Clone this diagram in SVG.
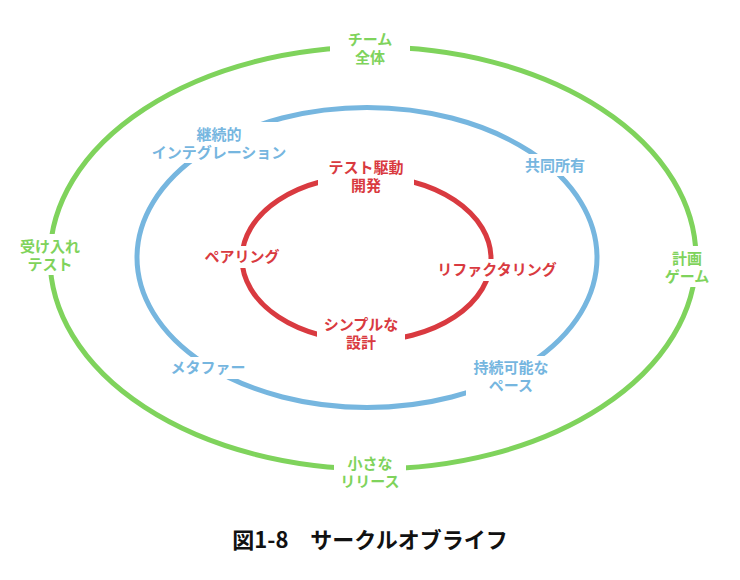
<svg xmlns="http://www.w3.org/2000/svg" width="740" height="580" viewBox="0 0 740 580">
<style>
.ring{fill:none;stroke-width:5}
.g{stroke:#7fd35c}.b{stroke:#76b6df}.r{stroke:#d93a40}
.bg{fill:#fff}
text{font-family:"Noto Sans CJK JP","Noto Sans",sans-serif;font-size:15px;font-weight:bold;text-anchor:middle}
.tg{fill:#7fd35c}.tb{fill:#76b6df}.tr{fill:#d93a40}
.title{font-size:22px;fill:#111}
</style>
<rect width="740" height="580" fill="#fff"/>
<g id="rings">
<ellipse id="ring-team" class="ring g" cx="373" cy="258" rx="323" ry="211"/>
<ellipse id="ring-tech" class="ring b" cx="367" cy="257.5" rx="230" ry="150"/>
<ellipse id="ring-dev" class="ring r" cx="366.5" cy="258.5" rx="124.5" ry="82.5"/>
</g>
<g id="n-team"><rect class="bg" x="330" y="28" width="80" height="38"/><text class="tg" x="370" y="45">チーム</text><text class="tg" x="370" y="62.5">全体</text></g>
<g id="n-ci"><rect class="bg" x="146" y="122" width="146" height="41"/><text class="tb" x="219" y="140">継続的</text><text class="tb" x="219" y="158">インテグレーション</text></g>
<g id="n-tdd"><rect class="bg" x="318" y="156" width="96" height="38"/><text class="tr" x="366" y="173">テスト駆動</text><text class="tr" x="366" y="190.5">開発</text></g>
<g id="n-own"><rect class="bg" x="518" y="154" width="74" height="22"/><text class="tb" x="555" y="171">共同所有</text></g>
<g id="n-at"><rect class="bg" x="16" y="234" width="68" height="41"/><text class="tg" x="50" y="252">受け入れ</text><text class="tg" x="50" y="269.5">テスト</text></g>
<g id="n-pg"><rect class="bg" x="660" y="246" width="54" height="41"/><text class="tg" x="687" y="264">計画</text><text class="tg" x="687" y="281.5">ゲーム</text></g>
<g id="n-pair"><rect class="bg" x="200" y="246" width="84" height="22"/><text class="tr" x="242" y="262">ペアリング</text></g>
<g id="n-ref"><rect class="bg" x="432" y="259" width="130" height="22"/><text class="tr" x="497" y="275">リファクタリング</text></g>
<g id="n-sd"><rect class="bg" x="317" y="312" width="88" height="40"/><text class="tr" x="361" y="330">シンプルな</text><text class="tr" x="361" y="347.5">設計</text></g>
<g id="n-meta"><rect class="bg" x="166" y="357" width="84" height="22"/><text class="tb" x="208" y="373">メタファー</text></g>
<g id="n-pace"><rect class="bg" x="466" y="356" width="90" height="40"/><text class="tb" x="511" y="373">持続可能な</text><text class="tb" x="511" y="390.5">ペース</text></g>
<g id="n-rel"><rect class="bg" x="334" y="452" width="72" height="40"/><text class="tg" x="370" y="469">小さな</text><text class="tg" x="370" y="486.5">リリース</text></g>
<text class="title" x="370" y="548">図1-8　サークルオブライフ</text>
</svg>
